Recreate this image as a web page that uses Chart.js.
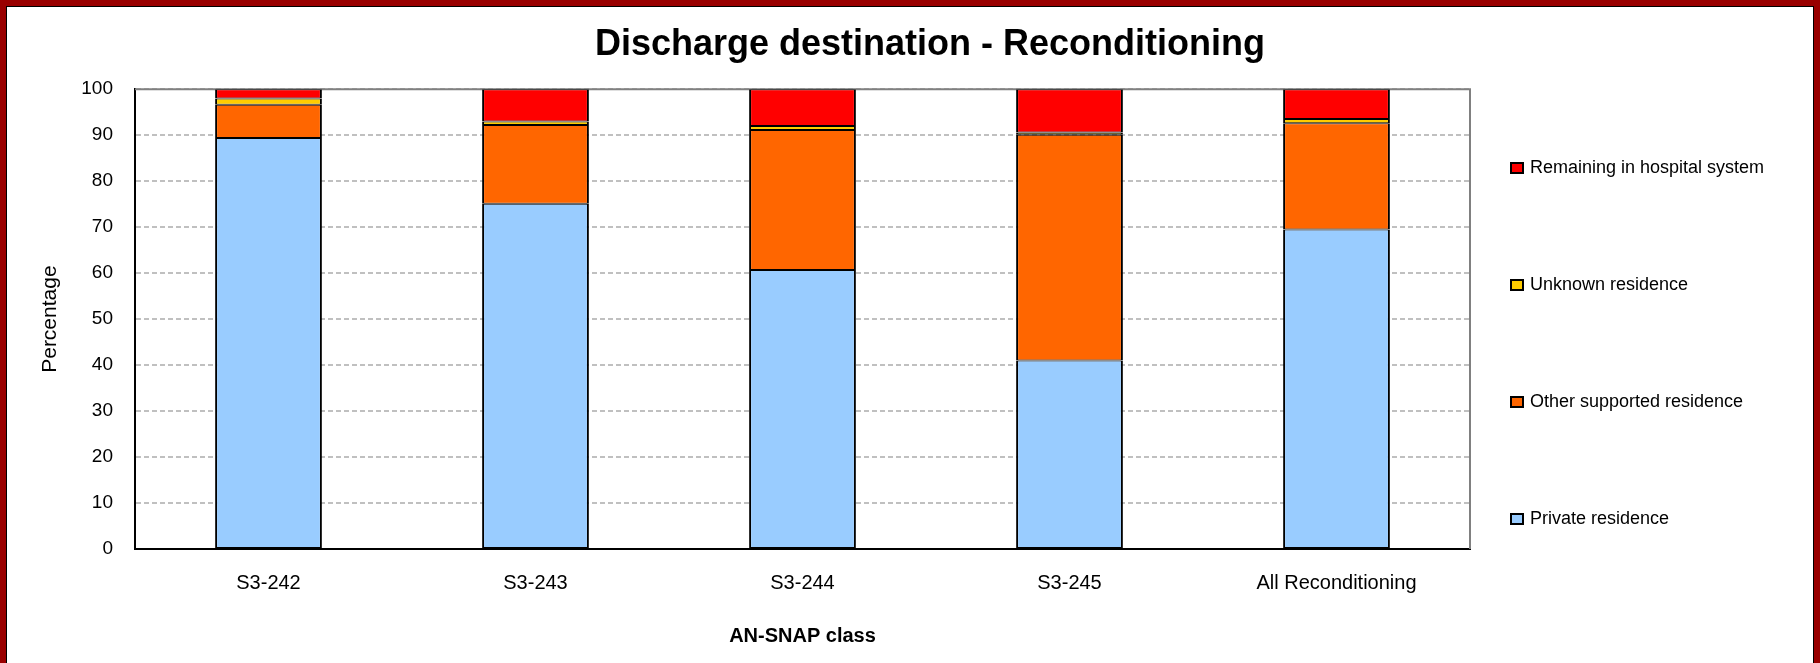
<!DOCTYPE html>
<html>
<head>
<meta charset="utf-8">
<script src="https://cdn.jsdelivr.net/npm/chart.js@4.4.1/dist/chart.umd.min.js"></script>
<style>
  html, body { margin: 0; padding: 0; background: #fff; }
  #frame {
    position: absolute; left: 0; top: 0;
    width: 1820px; height: 663px; box-sizing: border-box;
    border: 6px solid #990000; border-bottom: none;
  }
  #inner {
    width: 100%; height: 100%; box-sizing: border-box;
    border: 1px solid #000; border-bottom: none; background: #fff;
  }
  canvas { display: block; }
</style>
</head>
<body>
<div id="frame"><div id="inner"><canvas id="myChart" width="1806" height="656"></canvas></div></div>
<script>
const categories = ['S3-242', 'S3-243', 'S3-244', 'S3-245', 'All Reconditioning'];
const privateResidence = [89.4, 75.1, 60.7, 41.0, 69.5];
const otherSupported = [7.2, 17.1, 30.4, 49.1, 23.1];
const unknownResidence = [1.4, 0.8, 0.9, 0.5, 0.9];
const remainingHospital = [2.0, 7.0, 8.0, 9.4, 6.5];
const yTicks = [0, 10, 20, 30, 40, 50, 60, 70, 80, 90, 100];

const FONT = '"Liberation Sans", Arial, sans-serif';

function bar(label, data, color) {
    return {
        label: label,
        data: data,
        backgroundColor: color,
        borderColor: '#000',
        borderWidth: { top: 1, bottom: 1, left: 2, right: 2 },
        borderSkipped: false,
        barPercentage: 0.4,
        categoryPercentage: 1.0
    };
}

// gray plot frame on top and right like the original
const plotFrame = {
    id: 'plotFrame',
    beforeDatasetsDraw(chart) {
        const { ctx, chartArea: a } = chart;
        ctx.save();
        ctx.strokeStyle = '#808080';
        ctx.lineWidth = 2;
        ctx.beginPath();
        ctx.moveTo(a.left, a.top);
        ctx.lineTo(a.right, a.top);
        ctx.lineTo(a.right, a.bottom);
        ctx.stroke();
        ctx.restore();
    }
};

// legend spread out down the right side
const sideLegend = {
    id: 'sideLegend',
    afterDraw(chart) {
        const ctx = chart.ctx;
        const sets = chart.data.datasets.slice().reverse();
        ctx.save();
        ctx.font = '18px ' + FONT;
        ctx.textBaseline = 'middle';
        ctx.textAlign = 'left';
        sets.forEach((ds, i) => {
            const y = 161 + i * 117;
            ctx.fillStyle = ds.backgroundColor;
            ctx.fillRect(1504, y - 5, 12, 10);
            ctx.strokeStyle = '#000';
            ctx.lineWidth = 2;
            ctx.strokeRect(1504, y - 5, 12, 10);
            ctx.fillStyle = '#000';
            ctx.fillText(ds.label, 1523, y);
        });
        ctx.restore();
    }
};

const ctx = document.getElementById('myChart');
const myChart = new Chart(ctx, {
    type: 'bar',
    data: {
        labels: categories,
        datasets: [
            bar('Private residence', privateResidence, '#99CCFF'),
            bar('Other supported residence', otherSupported, '#FF6600'),
            bar('Unknown residence', unknownResidence, '#FFCC00'),
            bar('Remaining in hospital system', remainingHospital, '#FF0000')
        ]
    },
    options: {
        responsive: false,
        animation: false,
        layout: { padding: { left: 40, right: 0, top: 0, bottom: 0 } },
        plugins: {
            legend: { display: false },
            tooltip: { enabled: false },
            title: {
                display: true,
                text: 'Discharge destination - Reconditioning',
                color: '#000',
                font: { family: FONT, size: 36, weight: 'bold' },
                padding: { top: 16, bottom: 23 }
            }
        },
        scales: {
            x: {
                stacked: true,
                grid: { display: false },
                border: { display: true, color: '#000', width: 2 },
                ticks: { color: '#000', font: { family: FONT, size: 20 }, padding: 14 },
                title: {
                    display: true,
                    text: 'AN-SNAP class',
                    color: '#000',
                    font: { family: FONT, size: 20, weight: 'bold' },
                    padding: { top: 10, bottom: 15 }
                },
                afterFit(scale) { scale.height = 114; }
            },
            y: {
                stacked: true,
                min: 0,
                max: 100,
                afterBuildTicks(scale) { scale.ticks = yTicks.map(v => ({ value: v })); },
                grid: { color: '#C0C0C0', lineWidth: 2, drawTicks: false },
                border: { display: true, color: '#000', width: 2, dash: [5, 3] },
                ticks: { color: '#000', font: { family: FONT, size: 19 }, padding: 22 },
                title: {
                    display: true,
                    text: 'Percentage',
                    color: '#000',
                    font: { family: FONT, size: 21 },
                    padding: { top: -9, bottom: 4 }
                },
                afterFit(scale) { scale.width = 88; }
            },
            // empty axis that keeps room for the legend on the right
            side: {
                position: 'right',
                display: true,
                grid: { display: false },
                border: { display: false },
                ticks: { display: false },
                afterFit(scale) { scale.width = 343; }
            }
        }
    },
    plugins: [plotFrame, sideLegend]
});
</script>
</body>
</html>
